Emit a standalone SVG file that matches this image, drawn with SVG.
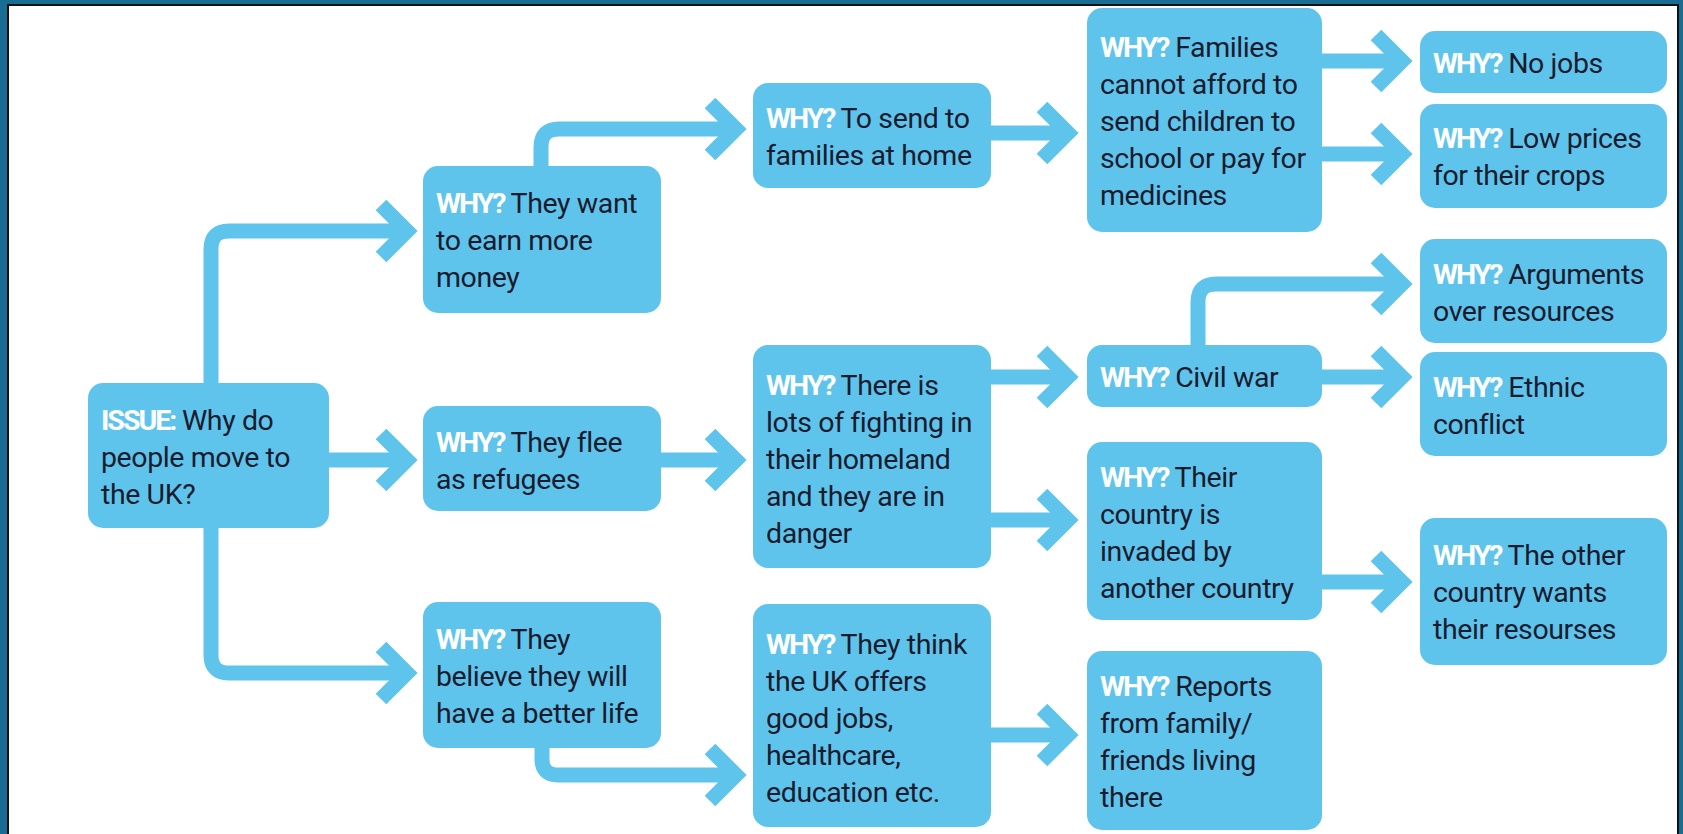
<svg xmlns="http://www.w3.org/2000/svg" width="1683" height="834" viewBox="0 0 1683 834">
  <style>
    .box { fill: #5ec4ec; }
    .t { font-family: "Roboto", "Liberation Sans", sans-serif; font-size: 28.5px; letter-spacing: -0.4px; fill: #1b1b2e; }
    .w { font-weight: 700; fill: #ffffff; letter-spacing: -2px; }
    .c { fill: none; stroke: #5ec4ec; stroke-width: 15; stroke-linecap: butt; stroke-linejoin: miter; }
  </style>
  <defs>
    <marker id="chev" markerUnits="userSpaceOnUse" viewBox="-40 -40 60 80" refX="0" refY="0" markerWidth="60" markerHeight="80" orient="auto" overflow="visible">
      <path d="M -26 -26 L 0 0 L -26 26" fill="none" stroke="#5ec4ec" stroke-width="15" stroke-linecap="butt" stroke-linejoin="miter"/>
    </marker>
  </defs>
  <rect x="0" y="0" width="1683" height="834" fill="#1a6d92"/>
  <rect x="8" y="5" width="1670" height="835" fill="#ffffff" stroke="#111" stroke-width="2"/>

  <g id="connectors">
    <path class="c" marker-end="url(#chev)" d="M 211 383 V 249 Q 211 231 229 231 H 407"/>
    <path class="c" marker-end="url(#chev)" d="M 329 460 H 407"/>
    <path class="c" marker-end="url(#chev)" d="M 211 528 V 655 Q 211 673 229 673 H 407"/>
    <path class="c" marker-end="url(#chev)" d="M 541 166 V 147 Q 541 129 559 129 H 736"/>
    <path class="c" marker-end="url(#chev)" d="M 542 748 V 759 Q 542 775 558 775 H 736"/>
    <path class="c" marker-end="url(#chev)" d="M 661 460 H 736"/>
    <path class="c" marker-end="url(#chev)" d="M 991 133 H 1068"/>
    <path class="c" marker-end="url(#chev)" d="M 991 377 H 1068"/>
    <path class="c" marker-end="url(#chev)" d="M 991 520 H 1068"/>
    <path class="c" marker-end="url(#chev)" d="M 991 735 H 1068"/>
    <path class="c" marker-end="url(#chev)" d="M 1322 61 H 1402"/>
    <path class="c" marker-end="url(#chev)" d="M 1322 154 H 1402"/>
    <path class="c" marker-end="url(#chev)" d="M 1198 345 V 302 Q 1198 284 1216 284 H 1402"/>
    <path class="c" marker-end="url(#chev)" d="M 1322 377 H 1402"/>
    <path class="c" marker-end="url(#chev)" d="M 1322 582 H 1402"/>
  </g>

  <g id="issue">
    <rect class="box" x="88" y="383" width="241" height="145" rx="15"/>
    <text class="t" x="101" y="430"><tspan class="w">ISSUE:</tspan> Why do<tspan x="101" dy="37">people move to</tspan><tspan x="101" dy="37">the UK?</tspan></text>
  </g>
  <g id="want">
    <rect class="box" x="423" y="166" width="238" height="147" rx="15"/>
    <text class="t" x="436" y="213"><tspan class="w">WHY?</tspan> They want<tspan x="436" dy="37">to earn more</tspan><tspan x="436" dy="37">money</tspan></text>
  </g>
  <g id="flee">
    <rect class="box" x="423" y="406" width="238" height="105" rx="15"/>
    <text class="t" x="436" y="452"><tspan class="w">WHY?</tspan> They flee<tspan x="436" dy="37">as refugees</tspan></text>
  </g>
  <g id="better">
    <rect class="box" x="423" y="602" width="238" height="146" rx="15"/>
    <text class="t" x="436" y="649"><tspan class="w">WHY?</tspan> They<tspan x="436" dy="37">believe they will</tspan><tspan x="436" dy="37">have a better life</tspan></text>
  </g>
  <g id="send">
    <rect class="box" x="753" y="83" width="238" height="105" rx="15"/>
    <text class="t" x="766" y="128"><tspan class="w">WHY?</tspan> To send to<tspan x="766" dy="37">families at home</tspan></text>
  </g>
  <g id="fighting">
    <rect class="box" x="753" y="345" width="238" height="223" rx="15"/>
    <text class="t" x="766" y="395"><tspan class="w">WHY?</tspan> There is<tspan x="766" dy="37">lots of fighting in</tspan><tspan x="766" dy="37">their homeland</tspan><tspan x="766" dy="37">and they are in</tspan><tspan x="766" dy="37">danger</tspan></text>
  </g>
  <g id="ukoffers">
    <rect class="box" x="753" y="604" width="238" height="223" rx="15"/>
    <text class="t" x="766" y="654"><tspan class="w">WHY?</tspan> They think<tspan x="766" dy="37">the UK offers</tspan><tspan x="766" dy="37">good jobs,</tspan><tspan x="766" dy="37">healthcare,</tspan><tspan x="766" dy="37">education etc.</tspan></text>
  </g>
  <g id="families">
    <rect class="box" x="1087" y="8" width="235" height="224" rx="15"/>
    <text class="t" x="1100" y="57"><tspan class="w">WHY?</tspan> Families<tspan x="1100" dy="37">cannot afford to</tspan><tspan x="1100" dy="37">send children to</tspan><tspan x="1100" dy="37">school or pay for</tspan><tspan x="1100" dy="37">medicines</tspan></text>
  </g>
  <g id="civilwar">
    <rect class="box" x="1087" y="345" width="235" height="62" rx="15"/>
    <text class="t" x="1100" y="387"><tspan class="w">WHY?</tspan> Civil war</text>
  </g>
  <g id="invaded">
    <rect class="box" x="1087" y="442" width="235" height="178" rx="15"/>
    <text class="t" x="1100" y="487"><tspan class="w">WHY?</tspan> Their<tspan x="1100" dy="37">country is</tspan><tspan x="1100" dy="37">invaded by</tspan><tspan x="1100" dy="37">another country</tspan></text>
  </g>
  <g id="reports">
    <rect class="box" x="1087" y="651" width="235" height="179" rx="15"/>
    <text class="t" x="1100" y="696"><tspan class="w">WHY?</tspan> Reports<tspan x="1100" dy="37">from family/</tspan><tspan x="1100" dy="37">friends living</tspan><tspan x="1100" dy="37">there</tspan></text>
  </g>
  <g id="nojobs">
    <rect class="box" x="1420" y="31" width="247" height="62" rx="15"/>
    <text class="t" x="1433" y="73"><tspan class="w">WHY?</tspan> No jobs</text>
  </g>
  <g id="lowprices">
    <rect class="box" x="1420" y="104" width="247" height="104" rx="15"/>
    <text class="t" x="1433" y="148"><tspan class="w">WHY?</tspan> Low prices<tspan x="1433" dy="37">for their crops</tspan></text>
  </g>
  <g id="arguments">
    <rect class="box" x="1420" y="239" width="247" height="104" rx="15"/>
    <text class="t" x="1433" y="284"><tspan class="w">WHY?</tspan> Arguments<tspan x="1433" dy="37">over resources</tspan></text>
  </g>
  <g id="ethnic">
    <rect class="box" x="1420" y="352" width="247" height="104" rx="15"/>
    <text class="t" x="1433" y="397"><tspan class="w">WHY?</tspan> Ethnic<tspan x="1433" dy="37">conflict</tspan></text>
  </g>
  <g id="other">
    <rect class="box" x="1420" y="518" width="247" height="147" rx="15"/>
    <text class="t" x="1433" y="565"><tspan class="w">WHY?</tspan> The other<tspan x="1433" dy="37">country wants</tspan><tspan x="1433" dy="37">their resourses</tspan></text>
  </g>
</svg>
